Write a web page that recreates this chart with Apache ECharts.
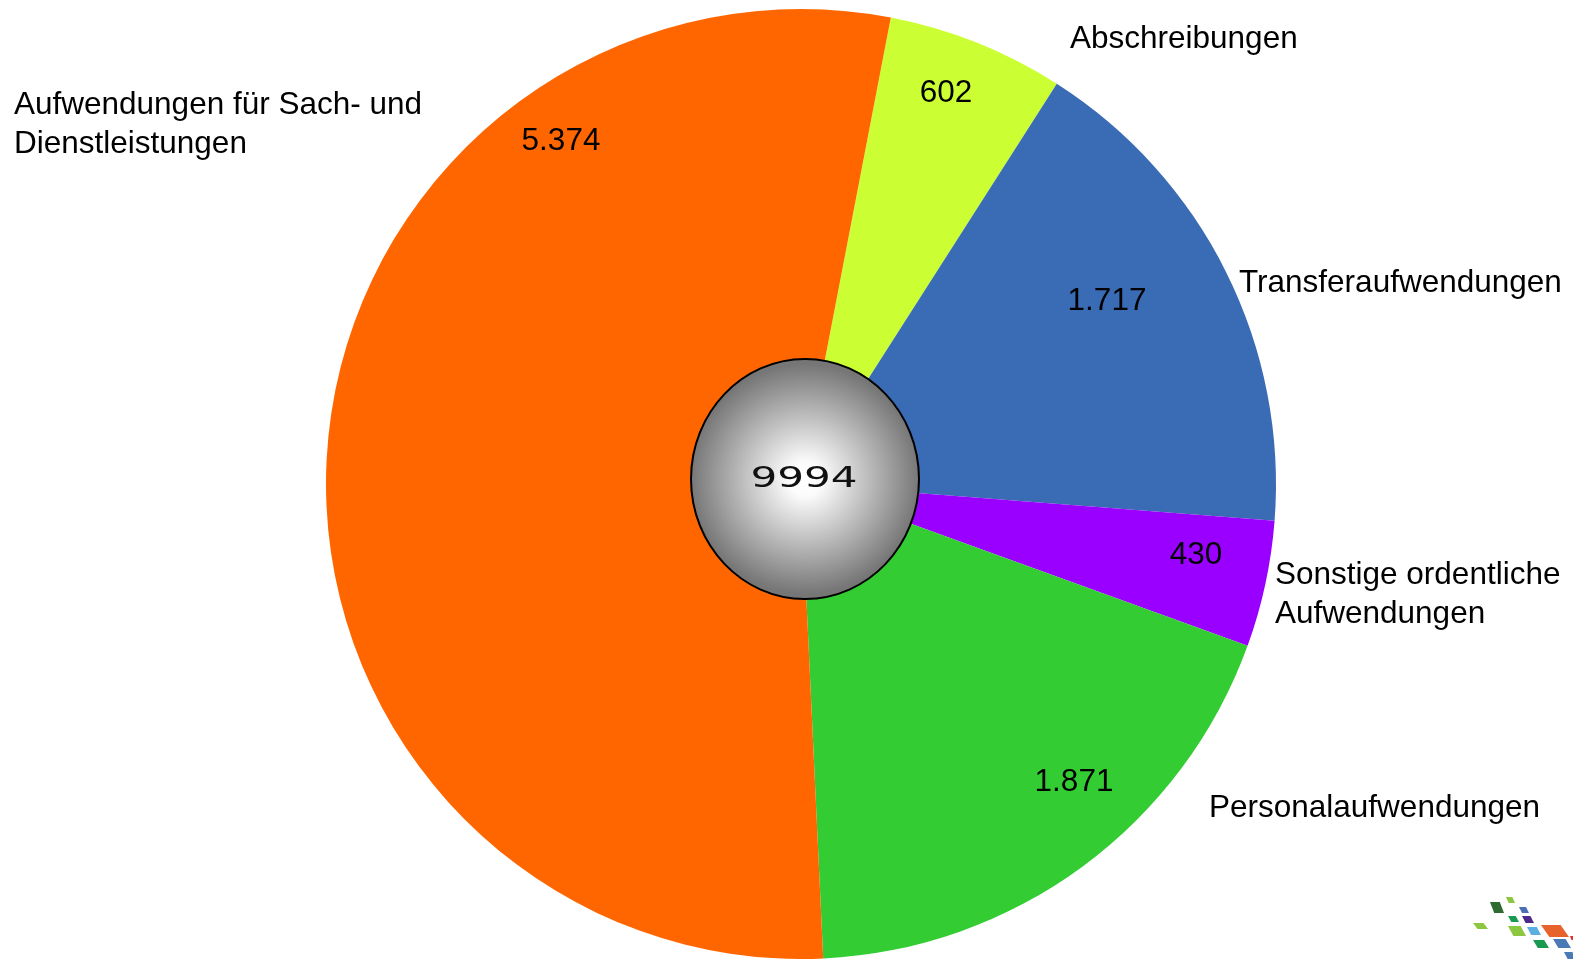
<!DOCTYPE html>
<html>
<head>
<meta charset="utf-8">
<script src="https://cdn.jsdelivr.net/npm/echarts@6/dist/echarts.min.js"></script>
<style>
  html, body { margin: 0; padding: 0; background: #fff; }
  #chart { width: 1573px; height: 959px; }
</style>
</head>
<body>
<div id="chart"></div>
<script>
// slices, clockwise from the top
const categories = [
  'Abschreibungen',
  'Transferaufwendungen',
  'Sonstige ordentliche\nAufwendungen',
  'Personalaufwendungen',
  'Aufwendungen für Sach- und\nDienstleistungen',
]
const values = [602, 1717, 430, 1871, 5374]
const colors = ['#ccff33', '#3a6bb5', '#9900ff', '#33cc33', '#ff6600']

// where the labels sit (left/middle for names, centre for values)
const namePos = [[1070, 39], [1239, 283], [1275, 595], [1209, 808], [14, 125]]
const valuePos = [[946, 93], [1107, 301], [1196, 555], [1074, 782], [561, 141]]

const total = values.reduce((a, b) => a + b, 0)
const font = 'Liberation Sans, Arial, sans-serif'

function fmt(v) {
  return String(v).replace(/\B(?=(\d{3})+(?!\d))/g, '.')
}

// little mark in the bottom right corner
const logoBoxes = [
  [1506, 897, 9, 6, '#8dc63f'],
  [1490, 902, 14, 11, '#2e6b30'],
  [1519, 907, 10, 6, '#4a6fb5'],
  [1508, 916, 11, 6, '#1a9a50'],
  [1522, 916, 12, 7, '#4b2a8a'],
  [1473, 923, 15, 6, '#8dc63f'],
  [1508, 926, 18, 10, '#8dc63f'],
  [1527, 927, 14, 8, '#5aaee0'],
  [1541, 925, 28, 12, '#e8622c'],
  [1570, 936, 5, 4, '#e03030'],
  [1533, 940, 16, 8, '#1a9a50'],
  [1553, 939, 18, 9, '#4a7ab5'],
  [1564, 952, 12, 7, '#4a7ab5'],
]

function logo() {
  return logoBoxes.map(([x, y, w, h, c]) => ({
    type: 'polygon',
    z: 100,
    silent: true,
    shape: {
      points: [[x, y], [x + w * 0.7, y], [x + w, y + h], [x + w * 0.3, y + h]],
    },
    style: { fill: c },
  }))
}

const chart = echarts.init(document.getElementById('chart'))

chart.setOption({
  animation: false,
  backgroundColor: '#fff',
  series: [
    {
      type: 'pie',
      center: [801, 484],
      radius: [100, 475],
      startAngle: 79.1,
      clockwise: true,
      silent: true,
      avoidLabelOverlap: false,
      data: values.map((v, i) => ({
        name: categories[i],
        value: v,
        itemStyle: { color: colors[i] },
      })),
      label: {
        show: true,
        position: 'outside',
        formatter: '{b}',
        color: '#000',
        fontFamily: font,
        fontSize: 31.5,
        lineHeight: 39,
      },
      labelLine: { show: false },
      labelLayout: p => ({
        x: namePos[p.dataIndex][0],
        y: namePos[p.dataIndex][1],
        align: 'left',
        verticalAlign: 'middle',
      }),
    },
    {
      type: 'pie',
      center: [801, 484],
      radius: [100, 475],
      startAngle: 79.1,
      clockwise: true,
      silent: true,
      data: values.map((v, i) => ({ name: categories[i], value: v })),
      itemStyle: { color: 'transparent' },
      label: {
        show: true,
        position: 'inside',
        formatter: p => fmt(p.value),
        color: '#000',
        fontFamily: font,
        fontSize: 31.5,
      },
      labelLayout: p => ({
        x: valuePos[p.dataIndex][0],
        y: valuePos[p.dataIndex][1],
        align: 'center',
        verticalAlign: 'middle',
      }),
    },
  ],
  graphic: [
    {
      type: 'ellipse',
      z: 100,
      silent: true,
      shape: { cx: 805, cy: 479, rx: 114, ry: 120 },
      style: {
        fill: new echarts.graphic.RadialGradient(0.5, 0.5, 0.5, [
          { offset: 0, color: '#ffffff' },
          { offset: 0.15, color: '#fbfbfb' },
          { offset: 1, color: '#767676' },
        ]),
        stroke: '#000',
        lineWidth: 2,
      },
    },
    {
      type: 'text',
      z: 101,
      silent: true,
      x: 804,
      y: 479,
      scaleX: 1.45,
      style: {
        text: String(total),
        fill: '#111',
        fontFamily: 'DejaVu Sans',
        fontSize: 29,
        textAlign: 'center',
        textVerticalAlign: 'middle',
      },
    },
    ...logo(),
  ],
})
</script>
</body>
</html>
